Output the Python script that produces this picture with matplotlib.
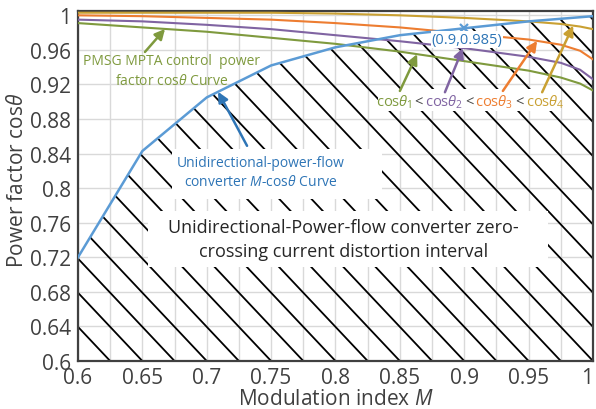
import numpy as np
import matplotlib
matplotlib.use("Agg")
import matplotlib.pyplot as plt
from matplotlib.collections import LineCollection
from matplotlib.patches import Polygon, Rectangle
from matplotlib.offsetbox import TextArea, HPacker, AnnotationBbox

plt.rcParams['font.family'] = ['Open Sans', 'DejaVu Sans']
plt.rcParams['mathtext.fontset'] = 'custom'
plt.rcParams['mathtext.rm'] = 'Open Sans'
plt.rcParams['mathtext.it'] = 'Open Sans:italic'

# ---- data ----
# converter M-cos(theta) boundary
m_conv = [0.6, 0.65, 0.7, 0.75, 0.8, 0.85, 0.9, 0.95, 1.0]
pf_conv = [0.72, 0.843, 0.905, 0.942, 0.963, 0.977, 0.985, 0.993, 0.999]

# PMSG power factor curves for four operating cases
m_pf = [0.6, 0.65, 0.7, 0.75, 0.8, 0.85, 0.9, 0.95, 0.975, 0.99, 1.0]
pf_1 = [0.991, 0.986, 0.981, 0.974, 0.967, 0.958, 0.947, 0.936, 0.928, 0.921, 0.913]
pf_2 = [0.995, 0.993, 0.989, 0.984, 0.977, 0.970, 0.962, 0.952, 0.945, 0.937, 0.926]
pf_3 = [1.0, 0.999, 0.997, 0.995, 0.991, 0.986, 0.979, 0.972, 0.966, 0.959, 0.949]
pf_4 = [1.003, 1.003, 1.003, 1.003, 1.002, 1.0, 0.997, 0.993, 0.990, 0.987, 0.984]

marked_point = (0.9, 0.985)

x_ticks = [0.6, 0.65, 0.7, 0.75, 0.8, 0.85, 0.9, 0.95, 1.0]
x_ticklabels = ['0.6', '0.65', '0.7', '0.75', '0.8', '0.85', '0.9', '0.95', '1']
y_ticks = [0.6, 0.64, 0.68, 0.72, 0.76, 0.8, 0.84, 0.88, 0.92, 0.96, 1.0]
y_ticklabels = ['0.6', '0.64', '0.68', '0.72', '0.76', '0.8', '0.84', '0.88',
                '0.92', '0.96', '1']

# ---- style ----
C_BLUE = '#5b9bd5'
C_BLUE_TXT = '#2e75b6'
C_GREEN = '#7f9a3e'
C_PURPLE = '#8064a2'
C_ORANGE = '#ed7d31'
C_GOLD = '#c9a032'
C_DARK = '#404040'

fig = plt.figure(figsize=(5.96, 4.10), dpi=100)
ax = fig.add_axes([78 / 596, 48 / 410, 515 / 596, 350 / 410])
ax.set_xlim(0.6, 1.0)
ax.set_ylim(0.6, 1.005)

ax.set_xticks(x_ticks)
ax.set_xticklabels(x_ticklabels)
ax.set_xticks(np.arange(0.6, 1.0001, 0.025), minor=True)
ax.set_yticks(y_ticks)
ax.set_yticklabels(y_ticklabels)
ax.tick_params(axis='both', which='both', length=0, labelsize=15,
               labelcolor=C_DARK)
ax.tick_params(axis='x', pad=4)
ax.tick_params(axis='y', pad=5)
ax.get_xticklabels()[-1].set_horizontalalignment('right')
ax.grid(True, which='major', color='#d9d9d9', lw=1.0, zorder=0)
ax.grid(True, which='minor', axis='x', color='#d9d9d9', lw=1.0, zorder=0)
ax.set_axisbelow(True)
for s in ax.spines.values():
    s.set_color(C_DARK)
    s.set_linewidth(1.6)

ax.set_xlabel('Modulation index $M$', fontsize=15, color=C_DARK, labelpad=0)
ax.set_ylabel(r'Power factor cos$\theta$', fontsize=15, color=C_DARK)
ax.yaxis.set_label_coords(-0.097, 0.52)

# ---- hatched distortion interval under the converter curve ----
region = Polygon(list(zip(m_conv, pf_conv)) + [(1.0, 0.55), (0.6, 0.55)],
                 closed=True, transform=ax.transData, fc='none', ec='none')
ax.add_patch(region)
slope = 1.58
step = 0.025
segs = []
for m0 in np.arange(0.625, 1.3, step):
    segs.append([(m0, 0.6), (m0 - 0.5 / slope, 0.6 + 0.5)])
hatch = LineCollection(segs, colors='black', linewidths=1.3, zorder=2)
hatch.set_clip_path(region)
ax.add_collection(hatch)

# white label backgrounds over the hatch
for (x0, x1, y0, y1) in [(0.654, 0.965, 0.709, 0.774),
                         (0.673, 0.836, 0.787, 0.845),
                         (0.833, 0.975, 0.889, 0.915)]:
    ax.add_patch(Rectangle((x0, y0), x1 - x0, y1 - y0, fc='white',
                           ec='none', zorder=3))

# ---- curves ----
ax.plot(m_pf, pf_1, color=C_GREEN, lw=1.5, zorder=4)
ax.plot(m_pf, pf_2, color=C_PURPLE, lw=1.5, zorder=4)
ax.plot(m_pf, pf_3, color=C_ORANGE, lw=1.5, zorder=4)
ax.plot(m_pf, pf_4, color=C_GOLD, lw=1.5, zorder=4)
ax.plot(m_conv, pf_conv, color=C_BLUE, lw=1.8, zorder=5)
ax.plot(*marked_point, marker='x', color=C_BLUE, ms=6, mew=1.6, zorder=6)
ax.text(marked_point[0] + 0.002, marked_point[1] - 0.013,
        f'({marked_point[0]},{marked_point[1]})', color=C_BLUE_TXT,
        fontsize=10.5, ha='center', va='center', zorder=6,
        bbox=dict(fc='white', ec='none', pad=0.5))

# ---- annotations ----
def arrow(tail, m_head, xs, ys, color):
    head = (m_head, float(np.interp(m_head, xs, ys)))
    ax.annotate('', xy=head, xytext=tail,
                arrowprops=dict(arrowstyle='-|>', color=color, lw=1.8,
                                mutation_scale=15, shrinkA=0, shrinkB=0),
                zorder=7)

ax.text(0.673, 0.9357, 'PMSG MPTA control  power\nfactor cos$\\theta$ Curve',
        color=C_GREEN, fontsize=10, ha='center', va='center',
        linespacing=1.45, zorder=7)
arrow((0.652, 0.9576), 0.6676, m_pf, pf_1, C_GREEN)

ax.text(0.742, 0.819, 'Unidirectional-power-flow\nconverter $M$-cos$\\theta$ Curve',
        color=C_BLUE_TXT, fontsize=10, ha='center', va='center',
        linespacing=1.4, zorder=7)
arrow((0.7313, 0.849), 0.7088, m_conv, pf_conv, C_BLUE_TXT)

ax.text(0.806, 0.741,
        'Unidirectional-Power-flow converter zero-\ncrossing current distortion interval',
        color='#262626', fontsize=13, ha='center', va='center',
        linespacing=1.4, zorder=7)

parts = [(r'cos$\theta_1$', C_GREEN), ('<', C_DARK),
         (r'cos$\theta_2$', C_PURPLE), ('<', C_DARK),
         (r'cos$\theta_3$', C_ORANGE), ('<', C_DARK),
         (r'cos$\theta_4$', C_GOLD)]
areas = [TextArea(t, textprops=dict(color=c, fontsize=10.5)) for t, c in parts]
packed = HPacker(children=areas, align='baseline', pad=0, sep=1.5)
ab = AnnotationBbox(packed, (0.9045, 0.9005), xycoords='data', frameon=False,
                    box_alignment=(0.5, 0.5), zorder=7)
ax.add_artist(ab)

arrow((0.850, 0.9125), 0.8634, m_pf, pf_1, C_GREEN)
arrow((0.885, 0.911), 0.899, m_pf, pf_2, C_PURPLE)
arrow((0.930, 0.9125), 0.9566, m_pf, pf_3, C_ORANGE)
arrow((0.9605, 0.911), 0.9846, m_pf, pf_4, C_GOLD)

fig.savefig('out.png', dpi=100, facecolor='white')
